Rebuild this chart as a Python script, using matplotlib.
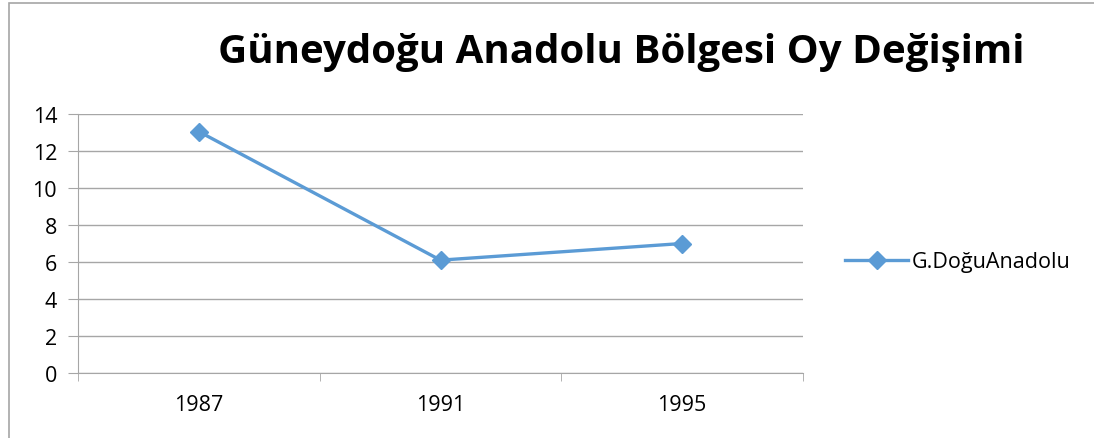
import matplotlib.pyplot as plt
from matplotlib.lines import Line2D
from matplotlib.patches import Rectangle

# Data
years = ['1987', '1991', '1995']
votes = [13.05, 6.1, 7.0]
y_ticks = [0, 2, 4, 6, 8, 10, 12, 14]

LINE_COLOR = '#5B9BD5'
GRID_COLOR = '#A6A6A6'
FONT = 'Open Sans'

fig = plt.figure(figsize=(10.94, 4.39), dpi=100, facecolor='white')
ax = fig.add_axes([78 / 1094, 1 - 374 / 439, 725 / 1094, 259 / 439])

x = list(range(len(years)))
ax.plot(x, votes, color=LINE_COLOR, linewidth=2.4, marker='D', markersize=9,
        markerfacecolor=LINE_COLOR, markeredgecolor=LINE_COLOR, zorder=3)

ax.set_xlim(-0.5, len(years) - 0.5)
ax.set_ylim(0, 14)
ax.set_yticks(y_ticks)
ax.set_yticklabels([str(t) for t in y_ticks], fontfamily=FONT, fontsize=15.5)
ax.yaxis.grid(True, color=GRID_COLOR, linewidth=1)
ax.set_axisbelow(True)

# category labels centered, tick marks on category boundaries
ax.set_xticks(x)
ax.set_xticklabels(years, fontfamily=FONT, fontsize=15.5)
ax.tick_params(axis='x', which='major', length=0, pad=15)
ax.set_xticks([i - 0.5 for i in range(len(years) + 1)], minor=True)
ax.tick_params(axis='x', which='minor', length=6, direction='out', color=GRID_COLOR)
ax.tick_params(axis='y', length=7, direction='out', color=GRID_COLOR, pad=8)

for side in ['top', 'right']:
    ax.spines[side].set_visible(False)
ax.spines['left'].set_color(GRID_COLOR)
ax.spines['bottom'].set_color(GRID_COLOR)

fig.text(621 / 1094, 1 - 52 / 439, 'Güneydoğu Anadolu Bölgesi Oy Değişimi',
         ha='center', va='center', fontfamily=FONT, fontweight='bold', fontsize=29)

# legend
handle = Line2D([0], [0], color=LINE_COLOR, linewidth=2.4, marker='D', markersize=9)
fig.legend(handles=[handle], labels=['G.DoğuAnadolu'], loc='center left',
           bbox_to_anchor=(826 / 1094, 1 - 263 / 439), frameon=False,
           prop={'family': FONT, 'size': 15.5}, handlelength=2.9, handletextpad=0.2)

# outer chart border
fig.patches.append(Rectangle((8.5 / 1094, -0.1), 1.2, 1 - 3.5 / 439 + 0.1,
                             transform=fig.transFigure, fill=False,
                             edgecolor=GRID_COLOR, linewidth=1.2))

fig.savefig('out.png', dpi=100, facecolor='white')
